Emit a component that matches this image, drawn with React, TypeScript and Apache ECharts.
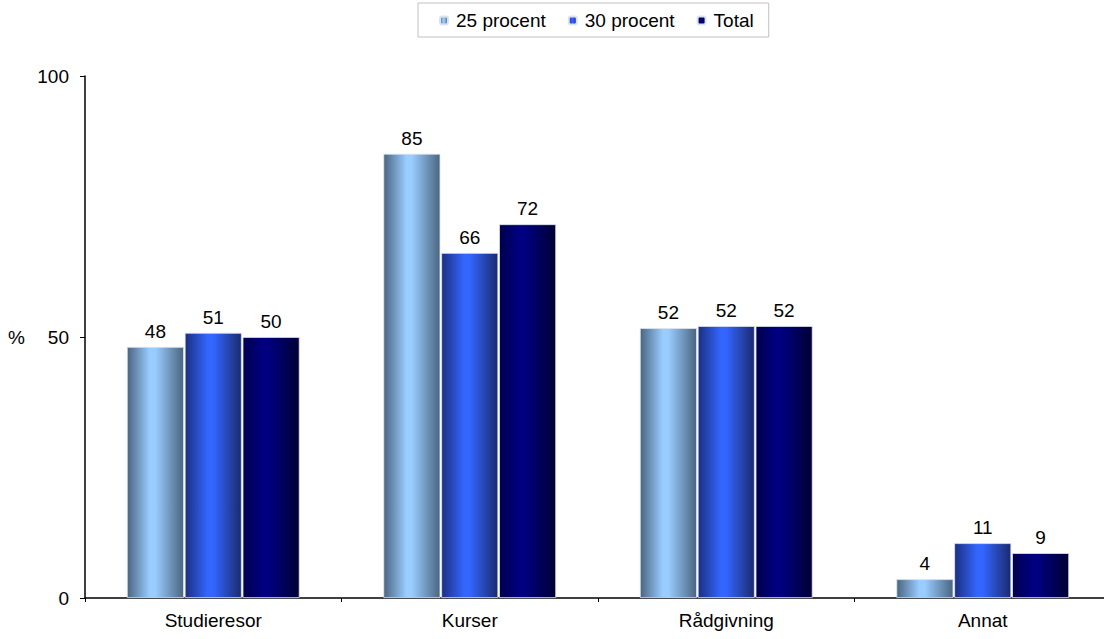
import React, { useEffect, useRef } from "react";
import * as echarts from "echarts";

const categories = ["Studieresor", "Kurser", "Rådgivning", "Annat"];
const seriesNames = ["25 procent", "30 procent", "Total"];
const values25 = [48.1, 85.1, 51.7, 3.6];
const values30 = [50.8, 66.1, 52.1, 10.5];
const valuesTotal = [50.0, 71.6, 52.1, 8.6];
const yTicks = [0, 50, 100];

const FONT = "'Liberation Sans', Arial, sans-serif";
const FS = 19;

function grad(edgeL: string, mid: string, edgeR: string, midPos = 0.45) {
  return new echarts.graphic.LinearGradient(0, 0, 1, 0, [
    { offset: 0, color: edgeL },
    { offset: midPos, color: mid },
    { offset: midPos + 0.1, color: mid },
    { offset: 1, color: edgeR },
  ]);
}

export default function App() {
  const ref = useRef<HTMLDivElement>(null);
  useEffect(() => {
    if (!ref.current) return;
    const chart = echarts.init(ref.current, undefined, { renderer: "svg" });
    const colors = [
      grad("#4a6580", "#99ccff", "#4a6580", 0.4),
      grad("#1a2f80", "#3366ff", "#1a2a6e", 0.4),
      grad("#00004d", "#000080", "#000033", 0.35),
    ];
    const data = [values25, values30, valuesTotal];
    chart.setOption({
      animation: false,
      textStyle: { fontFamily: FONT },
      legend: {
        top: 3,
        left: 418,
        data: seriesNames,
        borderColor: "#c0c0c0",
        borderWidth: 1,
        padding: [8, 15, 7, 21],
        itemWidth: 8,
        itemHeight: 8,
        itemGap: 22,
        textStyle: { fontSize: FS, color: "#000", fontFamily: FONT, padding: [0, 0, 0, 3] },
      },
      grid: { left: 85, right: 1, top: 76, bottom: 41, containLabel: false },
      xAxis: {
        type: "category",
        data: categories,
        axisLine: { lineStyle: { color: "#000", width: 1.5 } },
        axisTick: { show: true, length: 4, alignWithLabel: false, lineStyle: { color: "#000" } },
        axisLabel: { fontSize: FS, color: "#000", margin: 13, fontFamily: FONT },
      },
      yAxis: {
        type: "value",
        min: yTicks[0],
        max: yTicks[yTicks.length - 1],
        interval: yTicks[1] - yTicks[0],
        name: "%",
        nameLocation: "middle",
        nameRotate: 0,
        nameGap: 60,
        nameTextStyle: { fontSize: FS, color: "#000", fontFamily: FONT },
        splitLine: { show: false },
        axisLine: { show: true, lineStyle: { color: "#000", width: 1.5 } },
        axisTick: { show: true, length: 5, lineStyle: { color: "#000" } },
        axisLabel: { fontSize: FS, color: "#000", margin: 16, fontFamily: FONT },
      },
      series: seriesNames.map((name, i) => ({
        name,
        type: "bar",
        data: data[i],
        barWidth: 57,
        barGap: "1.5%",
        itemStyle: { color: colors[i], borderColor: "#dde3ee", borderWidth: 0.8 },
        label: {
          show: true,
          position: "top",
          distance: 6,
          fontSize: FS,
          color: "#000",
          fontFamily: FONT,
          formatter: (p: any) => String(Math.round(p.value)),
        },
      })),
    });
    return () => chart.dispose();
  }, []);
  return (
    <div
      style={{ position: "fixed", left: 0, top: 0, width: 1104, height: 639, overflow: "hidden", background: "#fff" }}
    >
      <div ref={ref} style={{ width: 1112, height: 639 }} />
    </div>
  );
}
